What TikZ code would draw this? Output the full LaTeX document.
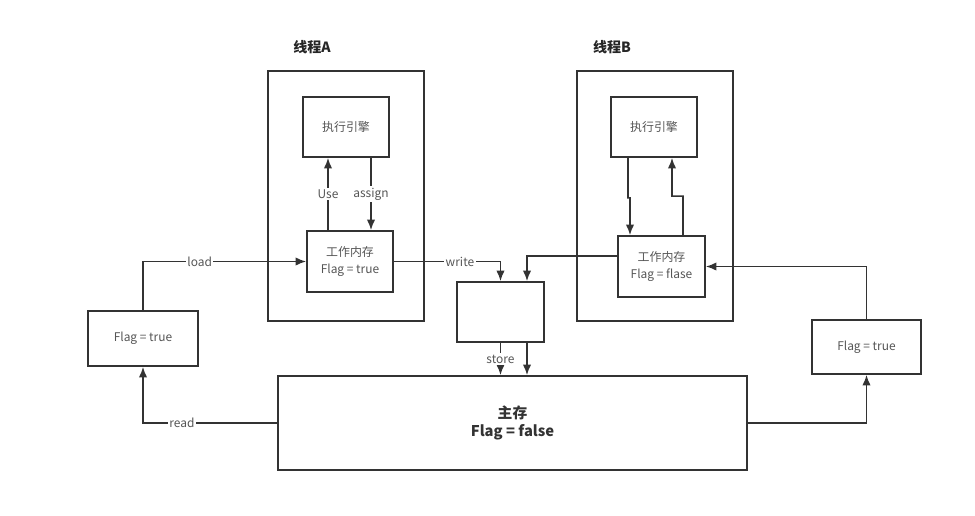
\documentclass[tikz,border=0pt]{standalone}
\usepackage{fontspec}
\setmainfont{Noto Sans CJK SC}
\usetikzlibrary{arrows.meta}
\definecolor{linegray}{HTML}{333333}
\definecolor{textgray}{HTML}{555555}
\tikzset{
  box/.style={draw=linegray, line width=1.2pt, align=center, inner sep=1pt,
    font=\fontsize{8.5}{11.5}\selectfont, text=textgray},
  lbl/.style={fill=white, inner sep=1pt, font=\fontsize{8.5}{11}\selectfont, text=textgray},
  conn/.style={draw=linegray, line width=1.2pt, -{Latex[length=7.5pt,width=6pt]}},
  title/.style={font=\normalsize\bfseries, text=black!85},
}
\begin{document}
\begin{tikzpicture}[x=0.025cm, y=-0.025cm]
\useasboundingbox (0,0) rectangle (975,515);
% threads
\node[title] (titleA) at (312,47) {线程A};
\node[title] (titleB) at (612,47) {线程B};
\node[box, minimum width=3.9cm, minimum height=6.25cm] (threadA) at (346,196) {};
\node[box, minimum width=3.9cm, minimum height=6.25cm] (threadB) at (655,196) {};
\node[box, minimum width=2.15cm, minimum height=1.5cm] (engA) at (346,127) {执行引擎};
\node[box, minimum width=2.15cm, minimum height=1.5cm] (engB) at (654,127) {执行引擎};
\node[box, minimum width=2.15cm, minimum height=1.525cm] (wmA) at (350,261.5) {工作内存\\Flag = true};
\node[box, minimum width=2.175cm, minimum height=1.525cm] (wmB) at (661.5,266.5) {工作内存\\Flag = flase};
% memory side
\node[box, minimum width=2.75cm, minimum height=1.375cm] (flagL) at (143,338.5) {Flag = true};
\node[box, minimum width=2.725cm, minimum height=1.35cm] (flagR) at (866.5,347) {Flag = true};
\node[box, minimum width=2.175cm, minimum height=1.5cm] (mid) at (500.5,312) {};
\node[box, minimum width=11.725cm, minimum height=2.35cm, text=black!80,
  font=\fontsize{10.5}{13}\selectfont\bfseries] (main) at (512.5,423) {主存\\Flag = false};
% thread A
\draw[conn] ([xshift=-0.55cm]wmA.north) -- node[lbl]{Use} ([xshift=-0.45cm]engA.south);
\draw[conn] ([xshift=0.625cm]engA.south) -- node[lbl]{assign} ([xshift=0.525cm]wmA.north);
% thread B
\draw[conn] ([xshift=-0.65cm]engB.south) -- ++(0,40) -- ++(2,0) -- ([xshift=-0.7875cm]wmB.north);
\draw[conn] ([xshift=0.5375cm]wmB.north) -- ++(0,-39) -- ++(-11,0) -- ([xshift=0.45cm]engB.south);
% load / read
\draw[conn] (flagL.north) |- node[lbl, pos=0.674]{load} (wmA.west);
\draw[conn] (main.west) -| node[lbl, pos=0.355]{read} (flagL.south);
% write / store
\draw[conn] (wmA.east) -| node[lbl, pos=0.31]{write} (mid.north);
\draw[conn] ([yshift=0.2625cm]wmB.west) -| ([xshift=0.6625cm]mid.north);
\draw[conn] (mid.south) -- node[lbl]{store} (mid.south |- main.north);
\coordinate (midR) at ([xshift=0.6625cm]mid.south);
\draw[conn] (midR) -- (midR |- main.north);
% thread B side
\draw[conn] (flagR.north) |- (wmB.east);
\draw[conn] (main.east) -| (flagR.south);
\end{tikzpicture}
\end{document}
